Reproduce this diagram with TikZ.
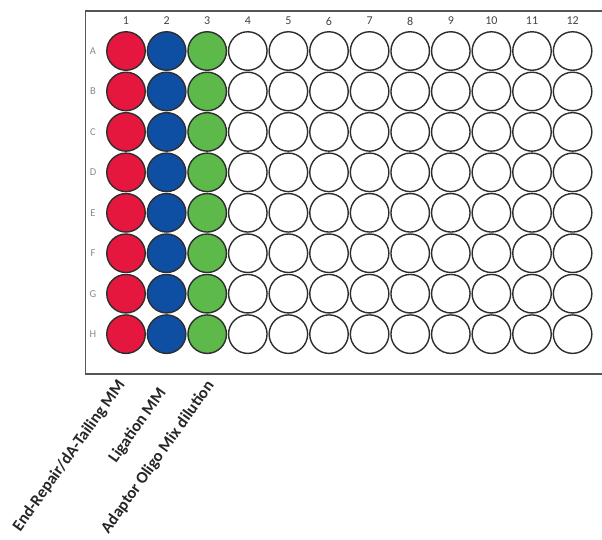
\documentclass[tikz,border=0pt]{standalone}
\usepackage{fontspec}
\setmainfont{Carlito}
\definecolor{wred}{HTML}{E5173F}
\definecolor{wblue}{HTML}{0E4FA3}
\definecolor{wgreen}{HTML}{5CB94A}
\definecolor{wline}{HTML}{2E2E2E}
\definecolor{pline}{HTML}{555555}
\definecolor{lblgray}{HTML}{8A8A8A}
\definecolor{numgray}{HTML}{444444}
\begin{document}
\begin{tikzpicture}[x=1pt,y=-1pt,
  well/.style={circle, draw=wline, line width=1.4pt, minimum size=38.5pt, inner sep=0pt},
  colnum/.style={font=\fontsize{12}{13}\selectfont, text=numgray, inner sep=0pt},
  rowlbl/.style={font=\fontsize{10.5}{12}\selectfont, text=lblgray, inner sep=0pt},
  rotlabel/.style={font=\bfseries\fontsize{16.5}{17}\selectfont, text=black!85, rotate=54.5, anchor=east, inner sep=0pt}]
\useasboundingbox (0,0) rectangle (602,539);
\fill[white] (0,0) rectangle (602,539);
\draw[pline, line width=1.4pt] (602,11) -- (85.5,11) -- (85.5,374) -- (602,374);
\foreach \c/\col in {1/wred,2/wblue,3/wgreen,4/white,5/white,6/white,7/white,8/white,9/white,10/white,11/white,12/white}{
  \foreach \r [count=\ri] in {A,B,C,D,E,F,G,H}{
    \node[well, fill=\col] (w\r\c) at ({126+(\c-1)*40.6},{51+(\ri-1)*40.45}) {};
  }
  \node[colnum] (c\c) at ({126+(\c-1)*40.6},21) {\c};
}
\foreach \r [count=\ri] in {A,B,C,D,E,F,G,H}{
  \node[rowlbl] (r\r) at (93,{51+(\ri-1)*40.45}) {\r};
}
\node[rotlabel] (l1) at (122,382) {End-Repair/dA-Tailing MM};
\node[rotlabel] (l2) at (163,390) {Ligation MM};
\node[rotlabel] (l3) at (211,383) {Adaptor Oligo Mix dilution};
\end{tikzpicture}
\end{document}
